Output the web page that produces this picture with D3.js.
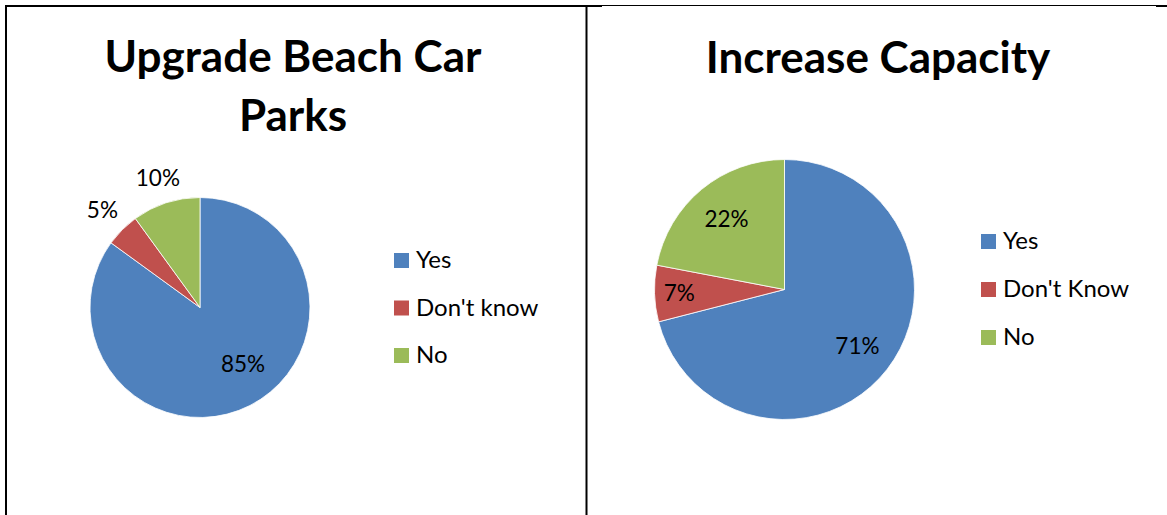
<!DOCTYPE html>
<html>
<head>
<meta charset="utf-8">
<script src="https://cdn.jsdelivr.net/npm/d3@7"></script>
<style>
  html, body { margin: 0; padding: 0; background: #fff; }
  svg { display: block; }
  text { font-family: Lato, "Noto Sans", sans-serif; fill: #000; }
</style>
</head>
<body>
<svg id="chart" width="1167" height="515"></svg>
<script>
// ---- Data ----
const titles1 = ["Upgrade Beach Car", "Parks"];
const categories1 = ["Yes", "Don't know", "No"];
const values1 = [85, 5, 10];

const titles2 = ["Increase Capacity"];
const categories2 = ["Yes", "Don't Know", "No"];
const values2 = [71, 7, 22];

const colors = ["#4F81BD", "#C0504D", "#9BBB59"];

// ---- Layout ----
const W = 1167, H = 515;
const svg = d3.select("#chart");
svg.append("rect").attr("width", W).attr("height", H).attr("fill", "#fff");

const charts = [
  { titles: titles1, cats: categories1, vals: values1,
    titleX: 293, titleY: 72, titleSize: 44, lineGap: 58.5,
    cx: 200, cy: 307.5, r: 110,
    labelMode: ["inside", "outside", "outside"], labelRadius: [0.65, 0, 0],
    labelTurn: [-10, 0, 0],
    legendX: 394, legendY: 253, legendGap: 47.5 },
  { titles: titles2, cats: categories2, vals: values2,
    titleX: 878, titleY: 72.5, titleSize: 44, lineGap: 58.5,
    cx: 784.5, cy: 289.5, r: 130,
    labelMode: ["inside", "inside", "inside"], labelRadius: [0.71, 0.81, 0.70],
    labelTurn: [0, 0, 0],
    legendX: 981, legendY: 234, legendGap: 48 }
];

charts.forEach(c => {
  const g = svg.append("g");
  // title
  c.titles.forEach((t, i) => {
    g.append("text")
      .attr("x", c.titleX).attr("y", c.titleY + i * c.lineGap)
      .attr("text-anchor", "middle")
      .style("font-weight", "700")
      .style("font-size", c.titleSize + "px")
      .text(t);
  });

  const data = c.vals.map((v, i) => ({ cat: c.cats[i], value: v, color: colors[i], i }));
  const pie = d3.pie().sort(null).value(d => d.value).startAngle(0).endAngle(2 * Math.PI);
  const arcs = pie(data);
  const arc = d3.arc().innerRadius(0).outerRadius(c.r);

  const pg = g.append("g").attr("transform", `translate(${c.cx},${c.cy})`);
  pg.selectAll("path").data(arcs).join("path")
    .attr("d", arc)
    .attr("fill", d => d.data.color)
    .attr("stroke", "#ffffff")
    .attr("stroke-width", 0.8)
    .attr("stroke-linejoin", "round");

  // labels
  arcs.forEach((a, i) => {
    const mid = (a.startAngle + a.endAngle) / 2 + c.labelTurn[i] * Math.PI / 180;
    const ux = Math.sin(mid), uy = -Math.cos(mid);
    const t = pg.append("text")
      .attr("text-anchor", "middle")
      .attr("dy", "0.35em")
      .style("font-size", "22.5px")
      .text(a.data.value + "%");
    let d;
    if (c.labelMode[i] === "outside") {
      const bb = t.node().getBBox();
      const hw = bb.width / 2, hh = 10;
      d = c.r + 10 + Math.abs(ux) * hw + Math.abs(uy) * hh;
    } else {
      d = c.r * c.labelRadius[i];
    }
    t.attr("x", ux * d).attr("y", uy * d);
  });

  // legend
  const lg = g.append("g").attr("transform", `translate(${c.legendX},${c.legendY})`);
  const items = lg.selectAll("g").data(data).join("g")
    .attr("transform", (d, i) => `translate(0,${i * c.legendGap})`);
  items.append("rect").attr("width", 15).attr("height", 15).attr("fill", d => d.color);
  items.append("text").attr("x", 22).attr("y", 15)
    .style("font-size", "24px")
    .text(d => d.cat);
});

// ---- Borders ----
const bl = svg.append("g").attr("stroke", "#000").attr("fill", "none");
bl.append("line").attr("x1", 5).attr("x2", 602).attr("y1", 6).attr("y2", 6).attr("stroke-width", 2);
bl.append("line").attr("x1", 6).attr("x2", 6).attr("y1", 5).attr("y2", H).attr("stroke-width", 2);
bl.append("line").attr("x1", 586.5).attr("x2", 586.5).attr("y1", 5).attr("y2", H).attr("stroke-width", 2);
bl.append("line").attr("x1", 602).attr("x2", 1156).attr("y1", 5.5).attr("y2", 5.5).attr("stroke-width", 1);
bl.append("line").attr("x1", 1156).attr("x2", W).attr("y1", 6).attr("y2", 6).attr("stroke-width", 2);
</script>
</body>
</html>
